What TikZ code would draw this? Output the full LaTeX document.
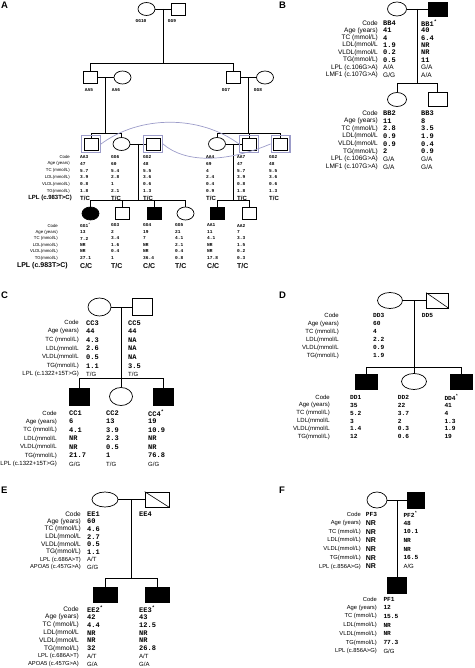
\documentclass[tikz,border=0pt]{standalone}
\usepackage{fontspec}
\setmainfont{Liberation Sans}
\newfontfamily\codefont{Liberation Mono}
\usetikzlibrary{positioning,fit,calc,shapes.geometric}
\definecolor{dupblue}{HTML}{9C9CC9}
\newcommand{\fsz}[1]{\fontsize{#1}{#1}\selectfont}

\tikzset{
  male/.style={draw,rectangle,line width=0.7pt,inner sep=0pt,minimum width=\sqw,minimum height=\sqh},
  female/.style={draw,ellipse,line width=0.7pt,inner sep=0pt,minimum width=\ciw,minimum height=\cih},
  aff/.style={fill=black},
  dupbox/.style={draw=dupblue,line width=1.3pt,inner sep=2pt},
  dupline/.style={draw=dupblue,line width=0.7pt},
  link/.style={line width=0.6pt},
  lab/.style={anchor=east,inner sep=0pt},
  val/.style={anchor=west,inner sep=0pt},
  gt/.style={anchor=west,inner sep=0pt},
  idlab/.style={inner sep=0pt,font=\codefont\bfseries\fsz{4.5}},
  panel/.style={anchor=north west,inner sep=0pt,font=\bfseries\fsz{9.5}},
}

\begin{document}
\begin{tikzpicture}[x=1pt,y=-1pt]
  \useasboundingbox (0,0) rectangle (474,668);

  % ================= A =================
  \node[panel] (pA) at (1,1.5) {A};
  \def\sqw{14pt}\def\sqh{12pt}\def\ciw{17pt}\def\cih{13pt}
  \node[female] (gg10) at (146.5,9) {};
  \node[male] (gg9) at (178,9) {};
  \node[idlab] (id-gg10) at (141,21) {GG10};
  \node[idlab] (id-gg9) at (172,21) {GG9};
  \node[male] (aa5) at (90.5,77.5) {};
  \node[female] (aa6) at (122.5,77.5) {};
  \node[male] (gg7) at (233.5,77.5) {};
  \node[female] (gg8) at (265,77.5) {};
  \node[idlab] (id-aa5) at (89,90) {AA5};
  \node[idlab] (id-aa6) at (116,90) {AA6};
  \node[idlab] (id-gg7) at (226,90) {GG7};
  \node[idlab] (id-gg8) at (258,90) {GG8};
  \node[male] (aa3) at (91,144) {};
  \node[female] (gg6) at (121.5,144) {};
  \node[male] (gg2a) at (153,144) {};
  \node[female] (aa4) at (217,144) {};
  \node[male] (aa7) at (249,144) {};
  \node[male] (gg2b) at (280.5,144) {};
  \node[female,aff] (gg1) at (90.5,213.5) {};
  \node[male] (gg3) at (122.5,213.5) {};
  \node[male,aff] (gg4) at (154,213.5) {};
  \node[female] (gg5) at (185.5,213.5) {};
  \node[male,aff] (aa1) at (217.5,213.5) {};
  \node[male] (aa2) at (249.5,213.5) {};

  % couples and their children
  \foreach \f/\m/\kids/\sy/\nm in {gg10/gg9/{aa5,gg7}/63/m1, aa5/aa6/{aa3,gg6}/133/m2, gg7/gg8/{aa4,aa7,gg2b}/133/m3,
      gg6/gg2a/{gg1,gg3,gg4,gg5}/200/m4, aa4/aa7/{aa1,aa2}/200/m5}{
    \draw[link] (\f) -- (\m);
    \coordinate (\nm) at ($(\f.east)!.5!(\m.west)$);
    \coordinate (\nm s) at (\nm |- 0,\sy);
    \draw[link] (\nm) -- (\nm s);
    \foreach \c in \kids {\draw[link] (\c.north) |- (\nm s);}
  }
  % same persons drawn twice
  \foreach \p in {aa3,gg2a,aa7,gg2b} {\node[dupbox,fit=(\p)] (\p-d) {};}
  \draw[dupline] (aa3-d.east) .. controls (140,115) and (200,115) .. (aa7-d.west);
  \draw[dupline] (gg2a-d.east) .. controls (185,163) and (225,163) .. (gg2b-d.west);

  \begin{scope}[lab/.append style={font=\fsz{4.3}},val/.append style={font=\codefont\bfseries\fsz{4.5}},
      gt/.append style={font=\bfseries\fsz{6}}]
    \foreach \txt [count=\i] in {Code,Age (years),TC (mmol/L),LDL(mmol/L),VLDL(mmol/L),TG(mmol/L)}
      {\node[lab] (la\i) at (70,{157+(\i-1)*6.8}) {\txt};}
    \node[lab,font=\bfseries\fsz{6}] (la7) at (72,198) {LPL (c.983T>C)};
    \foreach \x/\v/\g [count=\k] in {80/{AA3,47,5.7,3.9,0.8,1.8}/{T/C}, 111/{GG6,60,5.4,2.8,1,2.1}/{T/C},
        143/{GG2,48,5.5,3.6,0.6,1.3}/{T/C}, 206/{AA4,69,4,2.4,0.4,0.9}/{T/C},
        237/{AA7,47,5.7,3.9,0.8,1.8}/{T/C}, 269/{GG2,48,5.5,3.6,0.6,1.3}/{T/C}}{
      \foreach \txt [count=\i] in \v {\node[val] (va\k-\i) at (\x,{157+(\i-1)*6.8}) {\txt};}
      \node[gt] (ga\k) at (\x,198) {\g};
    }
    \foreach \txt [count=\i] in {Code,Age (years),TC (mmol/L),LDL(mmol/L),VLDL(mmol/L),TG(mmol/L)}
      {\node[lab] (lb\i) at (58,{225.5+(\i-1)*6.5}) {\txt};}
    \node[lab,font=\bfseries\fsz{7}] (lb7) at (68,266) {LPL (c.983T>C)};
    \foreach \x/\v/\g [count=\k] in {80/{GG1\textsuperscript{*},13,7.2,NR,NR,27.1}/{C/C}, 111/{GG3,2,3.4,1.6,0.4,1}/{T/C},
        143/{GG4,19,7,NR,NR,36.4}/{C/C}, 175/{GG5,21,4.1,2.1,0.4,0.8}/{T/C},
        207/{AA1,11,4.1,NR,NR,17.8}/{C/C}, 237/{AA2,7,3.3,1.5,0.2,0.3}/{T/C}}{
      \foreach \txt [count=\i] in \v {\node[val] (vb\k-\i) at (\x,{225.5+(\i-1)*6.5}) {\txt};}
      \node[gt,font=\bfseries\fsz{7}] (gb\k) at (\x,266) {\g};
    }
  \end{scope}

  % ================= B =================
  \node[panel] (pB) at (279,1.5) {B};
  \def\sqw{19pt}\def\sqh{14pt}\def\ciw{19pt}\def\cih{14pt}
  \node[female] (bb4) at (397,9) {};
  \node[male,aff] (bb1) at (437.5,9) {};
  \node[female] (bb2) at (397,99.5) {};
  \node[male] (bb3) at (437.5,99.5) {};
  \draw[link] (bb4) -- (bb1);
  \coordinate (mb) at ($(bb4.east)!.5!(bb1.west)$);
  \coordinate (mbs) at (mb |- 0,83);
  \draw[link] (mb) -- (mbs);
  \foreach \c in {bb2,bb3} {\draw[link] (\c.north) |- (mbs);}
  \begin{scope}[lab/.append style={font=\fsz{6.5}},val/.append style={font=\codefont\bfseries\fsz{7}},
      gt/.append style={font=\fsz{6.5}}]
    \foreach \y/\d/\r in {23/7.4/b, 113/7.7/c}{
      \foreach \txt [count=\i] in {Code,Age (years),TC (mmol/L),LDL(mmol/L,VLDL(mmol/L,TG(mmol/L),LPL (c.106G>A),LMF1 (c.107G>A)}
        {\node[lab] (l\r\i) at (378,{\y+(\i-1)*\d}) {\txt};}
    }
    \foreach \x/\y/\d/\v/\g/\h [count=\k] in {383/23/7.4/{BB4,41,4,1.9,0.2,0.5}/{A/A}/{G/G},
        421/23/7.4/{BB1\textsuperscript{*},40,6.4,NR,NR,11}/{G/A}/{A/A},
        383/113/7.7/{BB2,11,2.8,0.9,0.9,2}/{G/A}/{G/A}, 421/113/7.7/{BB3,8,3.5,1.9,0.4,0.9}/{G/A}/{G/A}}{
      \foreach \txt [count=\i] in \v {\node[val] (vB\k-\i) at (\x,{\y+(\i-1)*\d}) {\txt};}
      \node[gt] (gB\k) at (\x,{\y+6*\d}) {\g};
      \node[gt] (hB\k) at (\x,{\y+7*\d}) {\h};
    }
  \end{scope}

  % ================= C =================
  \node[panel] (pC) at (1,291.5) {C};
  \def\sqw{20pt}\def\sqh{17pt}\def\ciw{23pt}\def\cih{18pt}
  \node[female] (cc3) at (99.5,307) {};
  \node[male] (cc5) at (142,307) {};
  \node[male,aff] (cc1) at (79,396.5) {};
  \node[female] (cc2) at (121,396.5) {};
  \node[male,aff] (cc4) at (163,396.5) {};
  \draw[link] (cc3) -- (cc5);
  \coordinate (mc) at ($(cc3.east)!.5!(cc5.west)$);
  \coordinate (mcs) at (mc |- 0,378);
  \draw[link] (mc) -- (mcs);
  \foreach \c in {cc1,cc2,cc4} {\draw[link] (\c.north) |- (mcs);}
  \begin{scope}[lab/.append style={font=\fsz{6}},val/.append style={font=\codefont\bfseries\fsz{7}},
      gt/.append style={font=\fsz{6}}]
    \foreach \xr/\y/\d/\r in {79/322.7/8.6/d, 57/413/8.5/e}{
      \foreach \txt [count=\i] in {Code,Age (years),TC (mmol/L),LDL(mmol/L,VLDL(mmol/L,TG(mmol/L),LPL (c.1322+15T>G)}
        {\node[lab] (l\r\i) at (\xr,{\y+(\i-1)*\d}) {\txt};}
    }
    \foreach \x/\y/\d/\v/\g [count=\k] in {86/322.7/8.6/{CC3,44,4.3,2.6,0.5,1.1}/{T/G},
        128/322.7/8.6/{CC5,44,NA,NA,NA,3.5}/{T/G}, 69/413/8.5/{CC1,6,4.1,NR,NR,21.7}/{G/G},
        106/413/8.5/{CC2,13,3.9,2.3,0.5,1}/{T/G}, 148/413/8.5/{CC4\textsuperscript{*},19,10.9,NR,NR,76.8}/{G/G}}{
      \foreach \txt [count=\i] in \v {\node[val] (vC\k-\i) at (\x,{\y+(\i-1)*\d}) {\txt};}
      \node[gt] (gC\k) at (\x,{\y+6*\d}) {\g};
    }
  \end{scope}

  % ================= D =================
  \node[panel] (pD) at (279,291.5) {D};
  \def\sqw{22pt}\def\sqh{15pt}\def\ciw{25pt}\def\cih{16pt}
  \node[female] (dd3) at (390,300.5) {};
  \node[male] (dd5) at (437.5,300.5) {};
  \draw[link] (dd5.north west) -- (dd5.south east);
  \node[male,aff] (dd1) at (366,381.5) {};
  \node[female] (dd2) at (414,381.5) {};
  \node[male,aff] (dd4) at (461,381.5) {};
  \draw[link] (dd3) -- (dd5);
  \coordinate (md) at ($(dd3.east)!.5!(dd5.west)$);
  \coordinate (mds) at (md |- 0,367);
  \draw[link] (md) -- (mds);
  \foreach \c in {dd1,dd2,dd4} {\draw[link] (\c.north) |- (mds);}
  \begin{scope}[lab/.append style={font=\fsz{6}},val/.append style={font=\codefont\bfseries\fsz{6.2}}]
    \foreach \xr/\y/\d/\r in {339/315.7/8/f, 330/397.3/7.9/g}{
      \foreach \txt [count=\i] in {Code,Age (years),TC (mmol/L),LDL(mmol/L,VLDL(mmol/L,TG(mmol/L)}
        {\node[lab] (l\r\i) at (\xr,{\y+(\i-1)*\d}) {\txt};}
    }
    \foreach \x/\y/\d/\v [count=\k] in {373/315.7/8/{DD3,60,4,2.2,0.9,1.9}, 421.7/315.7/8/{DD5},
        350/397.3/7.9/{DD1,35,5.2,3,1.4,12}, 397.7/397.3/7.9/{DD2,22,3.7,2,0.3,0.6},
        444.3/397.3/7.9/{DD4\textsuperscript{*},41,4,1.3,1.9,19}}{
      \foreach \txt [count=\i] in \v {\node[val] (vD\k-\i) at (\x,{\y+(\i-1)*\d}) {\txt};}
    }
  \end{scope}

  % ================= E =================
  \node[panel] (pE) at (1,487) {E};
  \def\sqw{24pt}\def\sqh{15pt}\def\ciw{26pt}\def\cih{15pt}
  \node[female] (ee1) at (105,499.5) {};
  \node[male] (ee4) at (157,499.5) {};
  \draw[link] (ee4.north west) -- (ee4.south east);
  \node[male,aff] (ee2) at (105,594.5) {};
  \node[male,aff] (ee3) at (157,594.5) {};
  \draw[link] (ee1) -- (ee4);
  \coordinate (me) at ($(ee1.east)!.5!(ee4.west)$);
  \coordinate (mes) at (me |- 0,578);
  \draw[link] (me) -- (mes);
  \foreach \c in {ee2,ee3} {\draw[link] (\c.north) |- (mes);}
  \begin{scope}[lab/.append style={font=\fsz{6.5}},val/.append style={font=\codefont\bfseries\fsz{7}},
      gt/.append style={font=\fsz{6}}]
    \foreach \xr/\y/\d/\r in {81/514/7.6/h, 79/609/7.9/i}{
      \foreach \txt [count=\i] in {Code,Age (years),TC (mmol/L),LDL(mmol/L,VLDL(mmol/L,TG(mmol/L)}
        {\node[lab] (l\r\i) at (\xr,{\y+(\i-1)*\d}) {\txt};}
      \node[lab,font=\fsz{5.8}] (l\r7) at (\xr,{\y+6*\d}) {LPL (c.686A>T)};
      \node[lab,font=\fsz{5.8}] (l\r8) at (\xr,{\y+7*\d}) {APOA5 (c.457G>A)};
    }
    \node[val] (vE1) at (87,514) {EE1};
    \foreach \txt [count=\i] in {60,4.6,2.7,0.5,1.1} {\node[val] (vE1-\i) at (87,{521.6+(\i-1)*7.6}) {\txt};}
    \node[gt] (gE1) at (87,559.6) {A/T};
    \node[gt] (hE1) at (87,567.2) {G/G};
    \node[val] (vE4) at (139,514) {EE4};
    \foreach \x/\v [count=\k] in {87/{EE2\textsuperscript{*},42,4.4,NR,NR,32}, 139/{EE3\textsuperscript{*},43,12.5,NR,NR,26.8}}{
      \foreach \txt [count=\i] in \v {\node[val] (vE\k-\i) at (\x,{609+(\i-1)*7.9}) {\txt};}
      \node[gt] (gE\k) at (\x,{609+6*7.9}) {A/T};
      \node[gt] (hE\k) at (\x,{609+7*7.9}) {G/A};
    }
  \end{scope}

  % ================= F =================
  \node[panel] (pF) at (279,487) {F};
  \def\sqw{17pt}\def\sqh{16pt}\def\ciw{20pt}\def\cih{16pt}
  \node[female] (pf3) at (377,500) {};
  \node[male,aff] (pf2) at (415.5,500) {};
  \draw[link] (pf3) -- (pf2);
  \coordinate (mf) at ($(pf3.east)!.5!(pf2.west)$);
  \node[male,aff,minimum width=19pt] (pf1) at (mf |- 0,585) {};
  \draw[link] (mf) -- (pf1.north);
  \begin{scope}[lab/.append style={font=\fsz{5.8}},val/.append style={font=\codefont\bfseries\fsz{6.2}},
      gt/.append style={font=\fsz{6}}]
    \foreach \xr/\y/\r in {361/514.3/j, 377/599/k}{
      \foreach \txt [count=\i] in {Code,Age (years),TC (mmol/L),LDL(mmol/L),VLDL(mmol/L),TG(mmol/L),LPL (c.856A>G)}
        {\node[lab] (l\r\i) at (\xr,{\y+(\i-1)*8.7}) {\txt};}
    }
    \node[val] (vF3) at (365.7,514.3) {PF3};
    \foreach \i in {1,...,6} {\node[val,font=\bfseries\fsz{7}] (vF3-\i) at (365.7,{514.3+\i*8.7}) {NR};}
    \foreach \txt [count=\i] in {PF2\textsuperscript{*},48,10.1,NR,NR,16.5} {\node[val] (vF2-\i) at (403.3,{514.3+(\i-1)*8.7}) {\txt};}
    \node[gt] (gF2) at (403.3,{514.3+6*8.7}) {A/G};
    \foreach \txt [count=\i] in {PF1,12,15.5,NR,NR,77.3} {\node[val] (vF1-\i) at (383.3,{599+(\i-1)*8.7}) {\txt};}
    \node[gt] (gF1) at (383.3,{599+6*8.7}) {G/G};
  \end{scope}
\end{tikzpicture}
\end{document}
